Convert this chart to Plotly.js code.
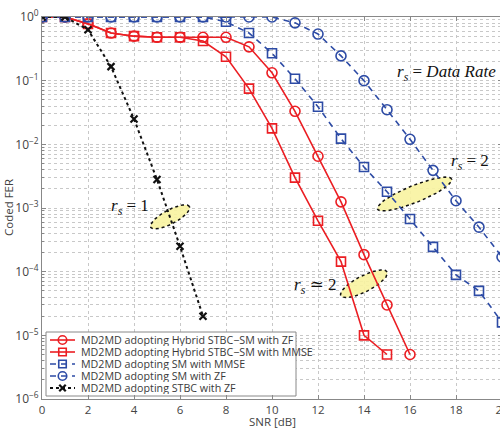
<!DOCTYPE html>
<html>
<head>
<meta charset="utf-8">
<script src="https://cdn.plot.ly/plotly-3.0.1.min.js"></script>
<style>
html,body{margin:0;padding:0;overflow:hidden;background:#fff;}
#chart{width:510px;height:429px;}
</style>
</head>
<body>
<div id="chart"></div>
<script>
// SNR values (dB)
const snr = [0,1,2,3,4,5,6,7,8,9,10,11,12,13,14,15,16,17,18,19,20];

// Hybrid STBC-SM with ZF
const hybridZF_x = [0,1,2,3,4,5,6,7,8,9,10,11,12,13,14,15,16];
const hybridZF_y = [1,1,0.78,0.56,0.50,0.48,0.48,0.48,0.48,0.34,0.133,0.033,0.0065,0.00125,1.85e-4,3.0e-5,5.0e-6];

// Hybrid STBC-SM with MMSE
const hybridMMSE_x = [0,1,2,3,4,5,6,7,8,9,10,11,12,13,14,15];
const hybridMMSE_y = [1,1,0.78,0.56,0.50,0.48,0.48,0.42,0.237,0.075,0.0178,0.003,6.3e-4,1.44e-4,1.0e-5,5.0e-6];

// SM with MMSE
const smMMSE_x = [0,1,2,3,4,5,6,7,8,9,10,11,12,13,14,15,16,17,18,19,20];
const smMMSE_y = [1,1,1,1,1,1,1,1,0.84,0.56,0.27,0.107,0.039,0.0123,0.0044,0.0018,6.7e-4,2.45e-4,8.9e-5,5.0e-5,1.6e-5];

// SM with ZF
const smZF_x = [0,1,2,3,4,5,6,7,8,9,10,11,12,13,14,15,16,17,18,19,20];
const smZF_y = [1,1,1,1,1,1,1,1,1,1,1,0.81,0.54,0.245,0.1,0.035,0.012,0.0039,0.0013,5.0e-4,1.7e-4];

// STBC with ZF
const stbcZF_x = [0,1,2,3,4,5,6,7];
const stbcZF_y = [1,1,0.63,0.166,0.025,0.0028,2.5e-4,2.0e-5];

const names = [
  'MD2MD adopting Hybrid STBC\u2212SM with ZF',
  'MD2MD adopting Hybrid STBC\u2212SM with MMSE',
  'MD2MD adopting SM with MMSE',
  'MD2MD adopting SM with ZF',
  'MD2MD adopting STBC with ZF'
];

// Y tick labels
const yTickVals = [1e-6,1e-5,1e-4,1e-3,1e-2,1e-1,1];
const yTickText = ['10<sup>\u22126</sup>','10<sup>\u22125</sup>','10<sup>\u22124</sup>','10<sup>\u22123</sup>','10<sup>\u22122</sup>','10<sup>\u22121</sup>','10<sup>0</sup>'];

// Highlight ellipses: centre (x, log10 y), semi-axes in px, angle in deg
const ellipses = [
  {cx:5.57, cly:-3.14, a:22, b:7, ang:28},
  {cx:16.2, cly:-2.78, a:40, b:8.5, ang:22},
  {cx:14.0, cly:-4.19, a:26, b:8, ang:27}
];

// Annotation labels
const labels = [
  {x:17.6, ly:-0.875, text:'<i>r</i><sub><i>s</i></sub> = <i>Data Rate</i>'},
  {x:18.6, ly:-2.27, text:'<i>r</i><sub><i>s</i></sub> = 2'},
  {x:3.83, ly:-2.98, text:'<i>r</i><sub><i>s</i></sub> = 1'},
  {x:11.9, ly:-4.23, text:'<i>r</i><sub><i>s</i></sub> \u2243 2'}
];

const W = 510, H = 429;
const M = {l:42, r:8, t:17, b:30};
const xRange = [0,20], yRange = [-6,0];
const plotW = W - M.l - M.r, plotH = H - M.t - M.b;
const pxPerX = plotW / (xRange[1]-xRange[0]);
const pxPerDec = plotH / (yRange[1]-yRange[0]);

const red = 'rgb(235,30,35)', blue = 'rgb(45,75,165)', blk = '#111';
const styles = [
  {line:{color:red, width:1.6}, marker:{symbol:'circle-open', size:10, color:red, line:{width:1.6, color:red}}},
  {line:{color:red, width:1.6}, marker:{symbol:'square-open', size:9, color:red, line:{width:1.6, color:red}}},
  {line:{color:blue, width:1.6, dash:'6px,5px'}, marker:{symbol:'square-open', size:9, color:blue, line:{width:1.6, color:blue}}},
  {line:{color:blue, width:1.6, dash:'6px,5px'}, marker:{symbol:'circle-open', size:10, color:blue, line:{width:1.6, color:blue}}},
  {line:{color:blk, width:2, dash:'dot'}, marker:{symbol:'x-thin-open', size:7, color:blk, line:{width:2.2, color:blk}}}
];
const legendMarkerSize = [8.5, 7.5, 7.5, 8.5, 6.5];
const seriesX = [hybridZF_x, hybridMMSE_x, smMMSE_x, smZF_x, stbcZF_x];
const seriesY = [hybridZF_y, hybridMMSE_y, smMMSE_y, smZF_y, stbcZF_y];

const traces = [];
ellipses.forEach(e => {
  const xs = [], ys = [];
  const th = e.ang*Math.PI/180;
  for (let i=0;i<=72;i++){
    const t = i/72*2*Math.PI;
    const u = e.a*Math.cos(t), v = e.b*Math.sin(t);
    const dx = u*Math.cos(th) - v*Math.sin(th);
    const dy = u*Math.sin(th) + v*Math.cos(th);
    xs.push(e.cx + dx/pxPerX);
    ys.push(Math.pow(10, e.cly + dy/pxPerDec));
  }
  traces.push({x:xs, y:ys, mode:'lines', fill:'toself', fillcolor:'rgba(248,243,160,0.9)',
    line:{color:blk, width:1.5, dash:'dot'}, showlegend:false, hoverinfo:'skip'});
});

for (let i=0;i<5;i++){
  traces.push(Object.assign({x:seriesX[i], y:seriesY[i], name:names[i], mode:'lines+markers', showlegend:false}, styles[i]));
}

// Custom compact legend (page pixel coordinates on overlay axes)
const LG = {x0:46, x1:296, y0:332, y1:396, rowTop:340, rowGap:12, lineX0:50, lineX1:75, textX:79};
traces.push({x:[LG.x0,LG.x1,LG.x1,LG.x0,LG.x0], y:[LG.y0,LG.y0,LG.y1,LG.y1,LG.y0], xaxis:'x2', yaxis:'y2',
  mode:'lines', fill:'toself', fillcolor:'#fff', line:{color:'#888', width:1}, showlegend:false, hoverinfo:'skip'});
const legendAnn = [];
for (let i=0;i<5;i++){
  const yy = LG.rowTop + i*LG.rowGap;
  traces.push({x:[LG.lineX0, LG.lineX1], y:[yy,yy], xaxis:'x2', yaxis:'y2', mode:'lines',
    line:styles[i].line, showlegend:false, hoverinfo:'skip'});
  const mk = Object.assign({}, styles[i].marker, {size:legendMarkerSize[i]});
  traces.push({x:[(LG.lineX0+LG.lineX1)/2], y:[yy], xaxis:'x2', yaxis:'y2', mode:'markers',
    marker:mk, showlegend:false, hoverinfo:'skip'});
  legendAnn.push({x:LG.textX, y:yy, xref:'x2', yref:'y2', xanchor:'left', yanchor:'middle', text:names[i],
    showarrow:false, height:12, font:{size:10.7, color:'#3a3a3a'}});
}

// Axis titles as annotations (positions in page pixels converted to paper)
const titleAnn = [
  {x:(272 - M.l)/plotW, y:-(H - (H - M.b))/plotH, xref:'paper', yref:'paper', text:'SNR [dB]',
    showarrow:false, xanchor:'center', yanchor:'bottom', yshift:-2, font:{size:11.5, color:'#444'}},
  {x:-(M.l - 8)/plotW, y:0.5, xref:'paper', yref:'paper', text:'Coded FER', textangle:-90, showarrow:false,
    xanchor:'center', yanchor:'middle', font:{size:11.5, color:'#444'}}
];

const gridc = '#c8c8c8';
const layout = {
  width: W, height: H,
  margin: M,
  paper_bgcolor:'#fff', plot_bgcolor:'#fff',
  font:{family:'"Open Sans", "DejaVu Sans", sans-serif', size:11, color:'#444'},
  showlegend:false,
  xaxis:{range:xRange, dtick:2, tick0:0, showgrid:true, gridcolor:gridc, griddash:'dot', gridwidth:1,
    zeroline:false, showline:true, linecolor:'#888', mirror:'ticks', ticks:'inside', ticklen:4,
    tickcolor:'#888', automargin:false, tickfont:{size:11.5, color:'#444'}},
  yaxis:{type:'log', range:yRange, tickvals:yTickVals, ticktext:yTickText, showgrid:true, gridcolor:gridc,
    griddash:'dot', gridwidth:1, zeroline:false, showline:true, linecolor:'#888', mirror:'ticks',
    ticks:'inside', ticklen:4, tickcolor:'#888', automargin:false, tickfont:{size:12, color:'#444'},
    minor:{dtick:'D1', showgrid:true, gridcolor:gridc, griddash:'dot', ticks:'inside', ticklen:2, tickcolor:'#888'}},
  xaxis2:{overlaying:'x', range:[M.l, W-M.r], visible:false, fixedrange:true},
  yaxis2:{overlaying:'y', range:[H-M.b, M.t], visible:false, fixedrange:true},
  annotations: labels.map(l => ({x:l.x, y:l.ly, xref:'x', yref:'y', text:l.text, showarrow:false,
    font:{family:'"Liberation Serif", "DejaVu Serif", serif', size:17, color:'#111'}})).concat(legendAnn, titleAnn)
};

Plotly.newPlot('chart', traces, layout, {displayModeBar:false, staticPlot:true});
</script>
</body>
</html>
